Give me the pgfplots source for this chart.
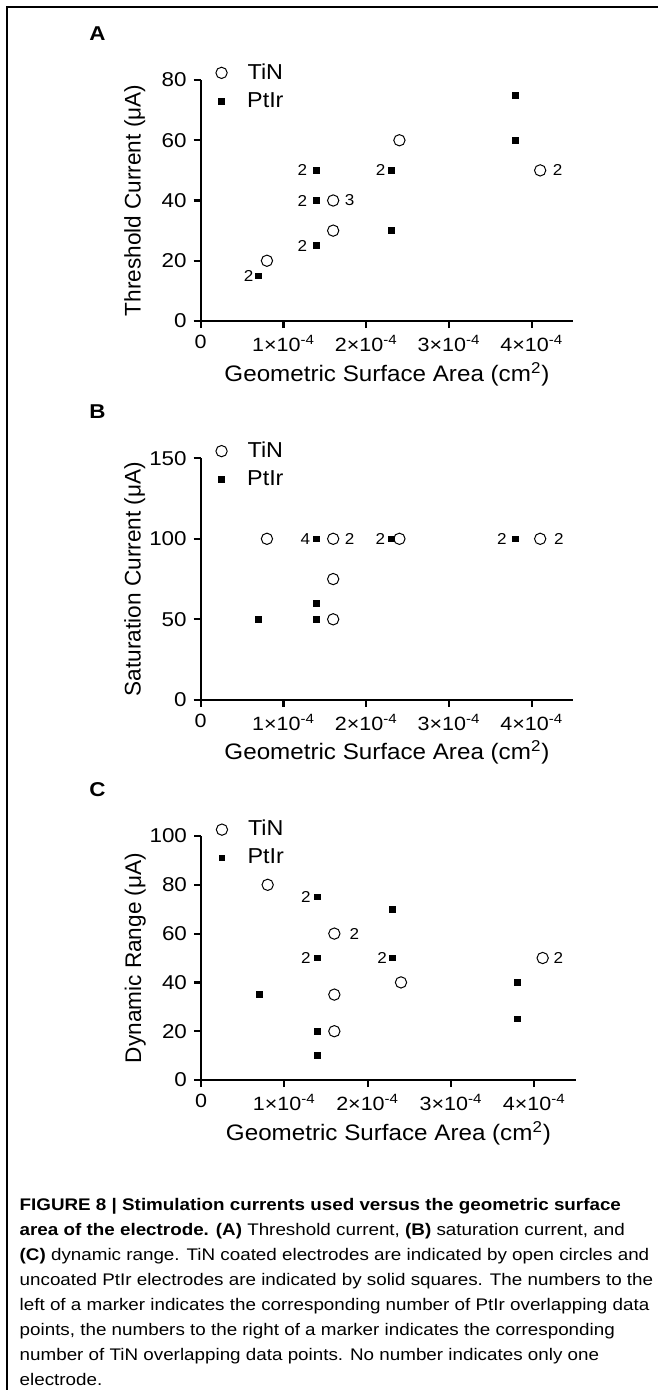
\documentclass[border=0pt]{standalone}
\usepackage{fontspec}
\setmainfont{Liberation Sans}
\newfontfamily\figfont[FakeStretch=1.08]{Liberation Sans}
\newfontfamily\tickfont[FakeStretch=1.12]{Liberation Sans}
\newfontfamily\ylabfont{Liberation Sans}
\newfontfamily\capfont[FakeStretch=1.12]{Liberation Sans}
\newfontfamily\letfont[FakeStretch=1.12]{Liberation Sans}
\usepackage{pgfplots}
\pgfplotsset{compat=1.18}

\tikzset{cnt/.style={inner sep=0pt, font=\figfont\fontsize{7.9}{8}\selectfont}}
% count of overlapping points, left or right of a marker
\newcommand{\Lc}[4]{\node[cnt, anchor=east, xshift=-#3pt] at (axis cs:#1,#2) {#4};}
\newcommand{\Rc}[4]{\node[cnt, anchor=west, xshift=#3pt] at (axis cs:#1,#2) {#4};}

\pgfplotsset{
  panel/.style={
    scale only axis, anchor=south west, clip=false,
    axis lines*=left,
    axis line style={line width=1.1pt},
    every tick/.style={line width=1.1pt, black},
    tick align=outside, major tick length=3.5pt,
    xmin=0, xmax=4.5e-4,
    xtick={0,1e-4,2e-4,3e-4,4e-4},
    xticklabels={0, 1×10\textsuperscript{-4}, 2×10\textsuperscript{-4}, 3×10\textsuperscript{-4}, 4×10\textsuperscript{-4}},
    scaled x ticks=false,
    /pgf/number format/assume math mode=true,
    yticklabel style={font=\tickfont\fontsize{10}{11}\selectfont},
    xticklabel style={font=\tickfont\fontsize{9.6}{11}\selectfont},
    xlabel style={font=\figfont\fontsize{11.2}{13}\selectfont},
    ylabel style={font=\ylabfont\fontsize{11.3}{13}\selectfont},
    xlabel={Geometric Surface Area (cm\textsuperscript{2})},
    legend style={draw=none, fill=none, inner sep=0pt, anchor=north west, row sep=5pt,
      font=\figfont\fontsize{10.8}{12}\selectfont, nodes={inner sep=0pt},
      /tikz/every odd column/.append style={column sep=10pt}},
  },
  tin/.style={only marks, mark=o, mark size=2.83pt, mark options={line width=0.5pt, black}, black,
    legend image code/.code={\draw[##1] plot coordinates {(0pt,0pt)};}},
  ptir/.style={only marks, mark=square*, mark size=1.43pt, black,
    legend image code/.code={\draw[##1] plot coordinates {(0pt,0pt)};}},
}

\begin{document}
\begin{tikzpicture}
\useasboundingbox (0,0) rectangle (329pt,-695pt);
\draw[line width=1pt] (3.3pt,-695pt) -- (3.3pt,-3.35pt) -- (329pt,-3.35pt);

\tikzset{lab/.style={anchor=base west, inner sep=0pt, font=\letfont\bfseries\fontsize{10}{11}\selectfont}}
\node[lab] at (44.5pt,-20.4pt) {A};
\node[lab] at (44.5pt,-209pt) {B};
\node[lab] at (44.5pt,-398.3pt) {C};

% A: threshold current
\begin{axis}[panel, at={(100.35pt,-160.5pt)}, width=186.3pt, height=120.5pt,
  ymin=0, ymax=80, ytick={0,20,40,60,80},
  ylabel={Threshold Current (μA)},
  ylabel style={at={(axis description cs:-0.161,0.5)}, anchor=base},
  xlabel style={at={(axis description cs:0.5,-0.249)}, anchor=base},
  legend style={at={(axis description cs:0.0397,1.07)}}]
\addplot[tin] coordinates {(0.8e-4,20) (1.6e-4,40) (1.6e-4,30) (2.4e-4,60) (4.1e-4,50)};
\addlegendentry{TiN}
\addplot[ptir] coordinates {(0.7e-4,15) (1.4e-4,50) (1.4e-4,40) (1.4e-4,25) (2.3e-4,50) (2.3e-4,30) (3.8e-4,75) (3.8e-4,60)};
\addlegendentry{PtIr}
\Lc{0.7e-4}{15}{2.5}{2}
\Lc{1.4e-4}{50}{4.6}{2}
\Lc{1.4e-4}{40}{4.6}{2}
\Lc{1.4e-4}{25}{4.6}{2}
\Lc{2.3e-4}{50}{2.7}{2}
\Rc{1.6e-4}{40}{5.6}{3}
\Rc{4.1e-4}{50}{6.2}{2}
\end{axis}

% B: saturation current
\begin{axis}[panel, at={(100.35pt,-349.9pt)}, width=186.3pt, height=120.75pt,
  ymin=0, ymax=150, ytick={0,50,100,150},
  ylabel={Saturation Current (μA)},
  ylabel style={at={(axis description cs:-0.161,0.5)}, anchor=base},
  xlabel style={at={(axis description cs:0.5,-0.248)}, anchor=base},
  legend style={at={(axis description cs:0.0397,1.07)}}]
\addplot[tin] coordinates {(0.8e-4,100) (1.6e-4,100) (1.6e-4,75) (1.6e-4,50) (2.4e-4,100) (4.1e-4,100)};
\addlegendentry{TiN}
\addplot[ptir] coordinates {(0.7e-4,50) (1.4e-4,100) (1.4e-4,60) (1.4e-4,50) (2.3e-4,100) (3.8e-4,100)};
\addlegendentry{PtIr}
\Lc{1.4e-4}{100}{3}{4}
\Lc{2.3e-4}{100}{2.8}{2}
\Lc{3.8e-4}{100}{4.2}{2}
\Rc{1.6e-4}{100}{5.6}{2}
\Rc{4.1e-4}{100}{6.8}{2}
\end{axis}

% C: dynamic range
\begin{axis}[panel, at={(100.5pt,-540pt)}, width=187.5pt, height=122pt,
  ymin=0, ymax=100, ytick={0,20,40,60,80,100},
  ylabel={Dynamic Range (μA)},
  ylabel style={at={(axis description cs:-0.16,0.5)}, anchor=base},
  xlabel style={at={(axis description cs:0.5,-0.246)}, anchor=base},
  legend style={at={(axis description cs:0.0397,1.066)}}]
\addplot[tin] coordinates {(0.8e-4,80) (1.6e-4,60) (1.6e-4,35) (1.6e-4,20) (2.4e-4,40) (4.1e-4,50)};
\addlegendentry{TiN}
\addplot[ptir] coordinates {(0.7e-4,35) (1.4e-4,75) (1.4e-4,50) (1.4e-4,20) (1.4e-4,10) (2.3e-4,70) (2.3e-4,50) (3.8e-4,40) (3.8e-4,25)};
\addlegendentry{PtIr}
\Lc{1.4e-4}{75}{3.3}{2}
\Lc{1.4e-4}{50}{3.3}{2}
\Lc{2.3e-4}{50}{2.7}{2}
\Rc{1.6e-4}{60}{7.5}{2}
\Rc{4.1e-4}{50}{5.3}{2}
\end{axis}

% caption
\tikzset{captxt/.style={anchor=base west, inner sep=0pt, font=\capfont\fontsize{8.4}{10}\selectfont}}
\node[captxt] at (9.65pt,-605pt) {\textbf{FIGURE 8 | Stimulation currents used versus the geometric surface}};
\node[captxt] at (9.65pt,-617.5pt) {\textbf{area of the electrode. (A)} Threshold current, \textbf{(B)} saturation current, and};
\node[captxt] at (9.65pt,-630pt) {\textbf{(C)} dynamic range. TiN coated electrodes are indicated by open circles and};
\node[captxt] at (9.65pt,-642.5pt) {uncoated PtIr electrodes are indicated by solid squares. The numbers to the};
\node[captxt] at (9.65pt,-655pt) {left of a marker indicates the corresponding number of PtIr overlapping data};
\node[captxt] at (9.65pt,-667.5pt) {points, the numbers to the right of a marker indicates the corresponding};
\node[captxt] at (9.65pt,-680pt) {number of TiN overlapping data points. No number indicates only one};
\node[captxt] at (9.65pt,-692.5pt) {electrode.};
\end{tikzpicture}
\end{document}
